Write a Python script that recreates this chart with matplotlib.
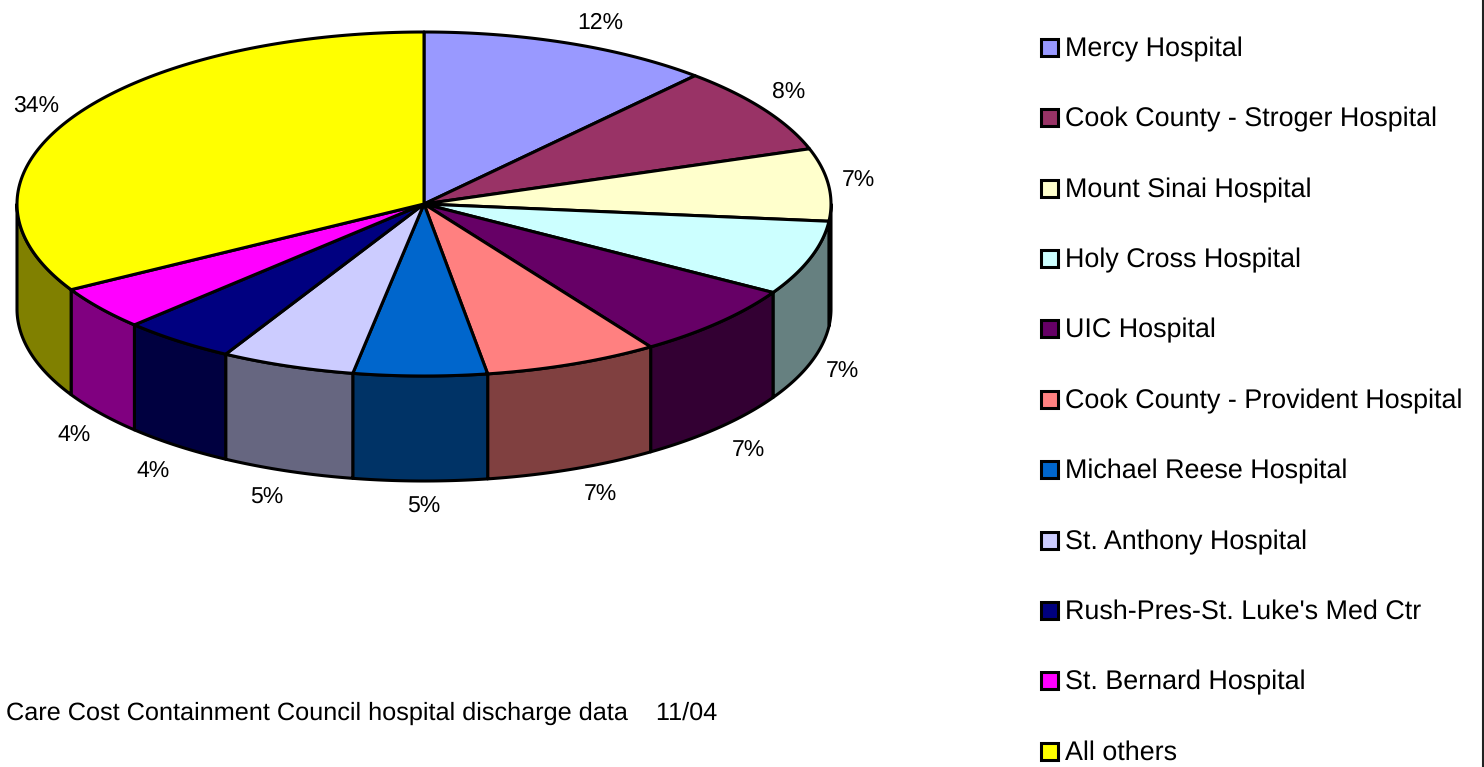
import numpy as np
import matplotlib
matplotlib.use("Agg")
import matplotlib.pyplot as plt
from matplotlib.patches import Polygon, Rectangle

plt.rcParams['font.family'] = ['Liberation Sans', 'DejaVu Sans']
plt.rcParams['text.hinting'] = 'none'

categories = ["Mercy Hospital", "Cook County - Stroger Hospital", "Mount Sinai Hospital",
              "Holy Cross Hospital", "UIC Hospital", "Cook County - Provident Hospital",
              "Michael Reese Hospital", "St. Anthony Hospital", "Rush-Pres-St. Luke's Med Ctr",
              "St. Bernard Hospital", "All others"]
values = [11.6, 8.2, 6.8, 7.0, 7.0, 6.9, 5.3, 5.3, 4.5, 4.1, 33.3]
pct_labels = ["12%", "8%", "7%", "7%", "7%", "7%", "5%", "5%", "4%", "4%", "34%"]
top_colors = ["#9999FF", "#993366", "#FFFFCC", "#CCFFFF", "#660066", "#FF8080",
              "#0066CC", "#CCCCFF", "#000080", "#FF00FF", "#FFFF00"]
side_colors = ["#666699", "#4D1A33", "#808066", "#668080", "#330033", "#804040",
               "#003366", "#666680", "#000040", "#800080", "#808000"]
label_pos = [(600, 21), (789, 90), (858, 179), (842, 370), (748, 449), (600, 493),
             (424, 505), (267, 496), (153, 470), (74, 434), (36, 104)]
legend_y = [48, 118, 189, 259, 329, 400, 470, 541, 611, 681, 752]
note = "Care Cost Containment Council hospital discharge data    11/04"
W, H = 1484, 767
CX, CY, RX, RY, DEPTH = 424, 204, 407, 172, 105

fig = plt.figure(figsize=(W / 100, H / 100), dpi=100)
ax = fig.add_axes([0, 0, 1, 1])
ax.set_xlim(0, W)
ax.set_ylim(H, 0)
ax.axis("off")
EDGE = dict(edgecolor="black", linewidth=2.2, joinstyle="round")

edges = np.concatenate([[0], np.cumsum(values)]) / np.sum(values) * 2 * np.pi

def rim(a0, a1, n=120):
    t = np.linspace(a0, a1, n)
    return CX + RX * np.sin(t), CY - RY * np.cos(t)

for i in range(len(values)):
    a0, a1 = max(edges[i], np.pi / 2), min(edges[i + 1], 3 * np.pi / 2)
    if a1 <= a0:
        continue
    x, y = rim(a0, a1)
    pts = np.r_[np.c_[x, y], np.c_[x[::-1], y[::-1] + DEPTH]]
    ax.add_patch(Polygon(pts, closed=True, facecolor=side_colors[i], **EDGE))

for i in range(len(values)):
    x, y = rim(edges[i], edges[i + 1])
    pts = np.r_[[[CX, CY]], np.c_[x, y]]
    ax.add_patch(Polygon(pts, closed=True, facecolor=top_colors[i], **EDGE))

for (lx, ly), s in zip(label_pos, pct_labels):
    ax.text(lx, ly + 1.5, s, fontsize=16.6, ha="center", va="center", color="black")

for name, col, y in zip(categories, top_colors, legend_y):
    ax.add_patch(Rectangle((1041, y - 9), 17, 17, facecolor=col, edgecolor="black", linewidth=2.2))
    ax.text(1065, y + 1, name, fontsize=19.4, ha="left", va="center", color="black")

ax.text(6, 713, note, fontsize=18.2, ha="left", va="center", color="black")
ax.plot([1482.5, 1482.5], [0, H], color="#222222", linewidth=1.5)
fig.savefig("out.png", dpi=100, facecolor="white")
